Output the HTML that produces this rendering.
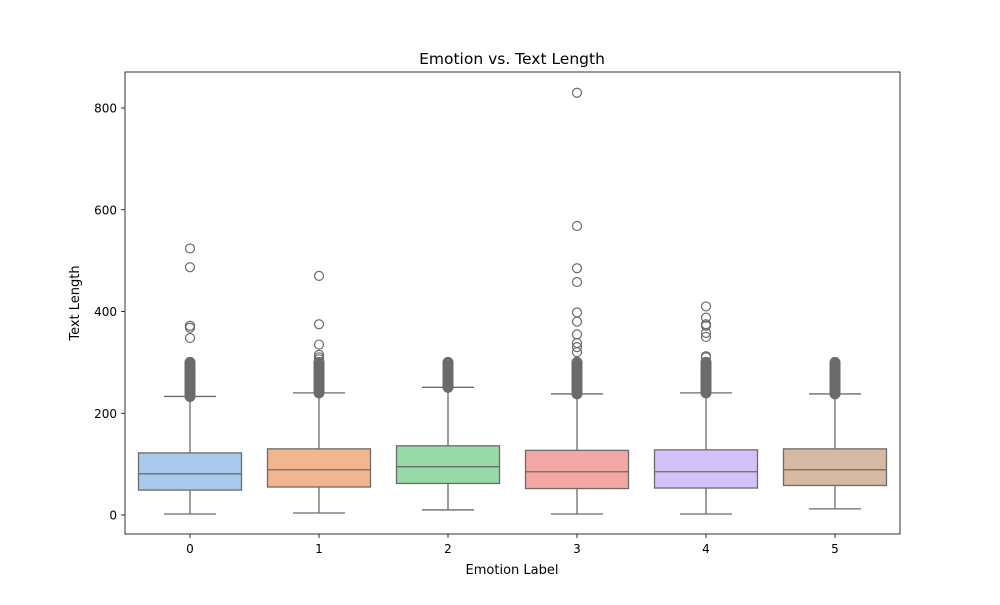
<!DOCTYPE html>
<html><head><meta charset="utf-8"><style>
body{margin:0;background:#fff;}
svg text{font-family:"DejaVu Sans","Liberation Sans",sans-serif;fill:#000;}
</style></head><body>
<svg id="chart" width="1000" height="600" xmlns="http://www.w3.org/2000/svg">
<rect x="125" y="72" width="775" height="462" fill="none" stroke="#000" stroke-width="0.8"/>
<text x="512" y="64" font-size="15.5" text-anchor="middle">Emotion vs. Text Length</text>
<text x="512" y="574" font-size="13" text-anchor="middle">Emotion Label</text>
<text x="79" y="303" font-size="13" text-anchor="middle" transform="rotate(-90 79 303)">Text Length</text>
<g id="marks"></g>
</svg>
<script>
const categories=["0","1","2","3","4","5"];
const whiskerLow=[2,4,10,2,2,12];
const q1=[49,55,62,52,53,58];
const median=[81,89,95,85,85,89];
const q3=[122,130,136,127,128,130];
const whiskerHigh=[233,240,251,238,240,238];
const denseTop=[300,300,300,300,300,300];
const outliers=[[348,368,372,487,524],[306,310,315,335,375,470],[],[320,330,338,355,380,398,458,485,568,830],[310,312,350,358,372,375,388,410],[]];
const yTicks=[0,200,400,600,800];
const colors=["#a9c9ed","#f1b58f","#97d9a7","#f3a8a5","#d2c2f7","#d6b9a1"];
const ns="http://www.w3.org/2000/svg";
const y=v=>515-v*0.50875;
const x=i=>190+i*129;
const g=document.getElementById('marks');
function mk(t,a){const e=document.createElementNS(ns,t);for(const k in a)e.setAttribute(k,a[k]);g.appendChild(e);return e;}
const ec="#6b6b6b";
yTicks.forEach(v=>{
 const l=mk('line',{x1:121,x2:125,y1:y(v),y2:y(v),stroke:'#000','stroke-width':0.8});
 
 
 const t=mk('text',{x:117,y:y(v)+4.5,'font-size':12,'text-anchor':'end'});t.textContent=v;
 
 
});
categories.forEach((c,i)=>{
 const cx=x(i),bw=103,cw=52;
 const l=mk('line',{x1:cx,x2:cx,y1:534,y2:538,stroke:'#000','stroke-width':0.8});
 
 
 const t=mk('text',{x:cx,y:553,'font-size':12,'text-anchor':'middle'});t.textContent=c;
 
 
 const w=mk('line',{x1:cx,x2:cx,y1:y(whiskerLow[i]),y2:y(whiskerHigh[i]),stroke:ec,'stroke-width':1.3});
 
 
 [whiskerLow[i],whiskerHigh[i]].forEach(v=>{const cp=mk('line',{x1:cx-cw/2,x2:cx+cw/2,y1:y(v),y2:y(v),stroke:ec,'stroke-width':1.3});
  
  });
 const b=mk('rect',{x:cx-bw/2,y:y(q3[i]),width:bw,height:y(q1[i])-y(q3[i]),fill:colors[i],stroke:ec,'stroke-width':1.3});
 
 
 const m=mk('line',{x1:cx-bw/2,x2:cx+bw/2,y1:y(median[i]),y2:y(median[i]),stroke:ec,'stroke-width':1.3});
 
 
 const d=mk('line',{x1:cx,x2:cx,y1:y(whiskerHigh[i]),y2:y(denseTop[i]),stroke:ec,'stroke-width':11,'stroke-linecap':'round'});
 
 
 outliers[i].forEach(v=>{const o=mk('circle',{cx:cx,cy:y(v),r:4.5,fill:'none',stroke:ec,'stroke-width':1.2});
  
  });
});
</script>
</body></html>
